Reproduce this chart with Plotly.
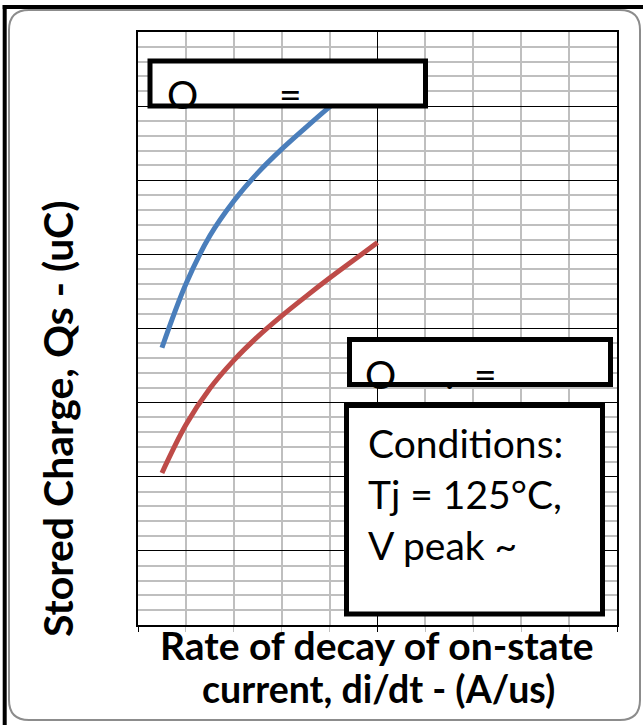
import plotly.graph_objects as go

# ---- data ----
didt = [5, 10, 15, 20, 25, 30, 35, 40, 45, 50]
qs_upper = [37.4, 46.0, 52.5, 57.2, 61.0, 64.2, 67.1, 69.9, 72.5, 75.0]
qs_lower = [20.5, 27.0, 31.9, 35.7, 38.9, 41.7, 44.3, 46.8, 49.2, 51.6]

x_title_lines = ["Rate of decay of on-state", "current, di/dt - (A/us)"]
y_title = "Stored Charge, Qs - (uC)"
cond_lines = ["Conditions:", "Tj = 125°C,", "V peak ~"]

W, H = 643, 725
L, R, T, B = 138, 617, 32, 625
FONT = "Lato"


def px(x):
    return (x - L) / (R - L)


def py(y):
    return (B - y) / (B - T)


fig = go.Figure()
fig.add_trace(go.Scatter(x=didt, y=qs_upper, mode="lines", line=dict(color="#4A7EBB", width=5, shape="spline"), showlegend=False))
fig.add_trace(go.Scatter(x=didt, y=qs_lower, mode="lines", line=dict(color="#BE4B48", width=5, shape="spline"), showlegend=False))

shapes = []


def rect_px(x0, y0, x1, y1, fill="white", lw=5, lc="black"):
    shapes.append(dict(type="rect", xref="paper", yref="paper", x0=px(x0), x1=px(x1), y0=py(y1), y1=py(y0),
                       fillcolor=fill, line=dict(color=lc, width=lw), layer="above"))


# outer rounded frame (gray)
x0, y0, x1, y1, r = 9, 10, 640, 720, 20
pts = [("M", (x0 + r, y0)), ("L", (x1 - r, y0)), ("Q", (x1, y0), (x1, y0 + r)), ("L", (x1, y1 - r)),
       ("Q", (x1, y1), (x1 - r, y1)), ("L", (x0 + r, y1)), ("Q", (x0, y1), (x0, y1 - r)), ("L", (x0, y0 + r)),
       ("Q", (x0, y0), (x0 + r, y0))]
path = ""
for item in pts:
    cmd = item[0]
    path += cmd + " " + " ".join(f"{px(p[0]):.5f},{py(p[1]):.5f}" for p in item[1:]) + " "
path += "Z"
shapes.append(dict(type="path", xref="paper", yref="paper", path=path, line=dict(color="#8C8C8C", width=2), layer="below"))

# black border bars (left and top)
rect_px(2.7, 5, 6.7, 725, fill="black", lw=0)
rect_px(2.7, 5, 643, 9, fill="black", lw=0)

# label boxes
rect_px(150, 61, 425.5, 106)
rect_px(349.5, 339.5, 610.5, 384.5)
rect_px(346.5, 405.5, 602.5, 614)

annotations = []


def text_px(x, y, s, size, bold=False, xanchor="center", angle=0):
    annotations.append(dict(xref="paper", yref="paper", x=px(x), y=py(y), text=s, showarrow=False,
                            xanchor=xanchor, yanchor="middle", textangle=angle,
                            font=dict(family=FONT, size=size, color="black", weight=700 if bold else 400)))


# box texts (truncated in the reference)
text_px(182, 94, "O", 39)
text_px(290, 94, "=", 39)
text_px(380.5, 374, "O", 39)
text_px(449, 374, ".", 39)
text_px(485, 374, "=", 39)

# conditions
for i, s in enumerate(cond_lines):
    text_px(366, 443 + 51 * i, s, 39, xanchor="left")

# axis titles
text_px(377, 645, x_title_lines[0], 39, bold=True)
text_px(378, 689, x_title_lines[1], 37.5, bold=True)
text_px(57, 419, y_title, 41, bold=True, angle=-90)

fig.update_layout(
    width=W, height=H, autosize=False,
    margin=dict(l=L, r=W - R, t=T, b=H - B, pad=0),
    paper_bgcolor="white", plot_bgcolor="white",
    shapes=shapes, annotations=annotations, showlegend=False,
    xaxis=dict(range=[0, 100], dtick=50, showticklabels=False, showgrid=True, gridcolor="black", gridwidth=1.3,
               zeroline=False, showline=True, linecolor="black", linewidth=1.5, mirror=True,
               ticks="outside", ticklen=5, tickcolor="black", tickwidth=1.3,
               minor=dict(dtick=10, showgrid=True, gridcolor="#BFBFBF", gridwidth=1.6,
                          ticks="outside", ticklen=5, tickcolor="#BFBFBF", tickwidth=1.3)),
    yaxis=dict(range=[0, 80], dtick=10, showticklabels=False, showgrid=True, gridcolor="black", gridwidth=1.3,
               zeroline=False, showline=True, linecolor="black", linewidth=1.5, mirror=True,
               minor=dict(dtick=2, showgrid=True, gridcolor="#BFBFBF", gridwidth=1.6)),
)

fig.write_html("out.html", config={"displayModeBar": False},
               post_script="document.body.style.margin='0px';")
